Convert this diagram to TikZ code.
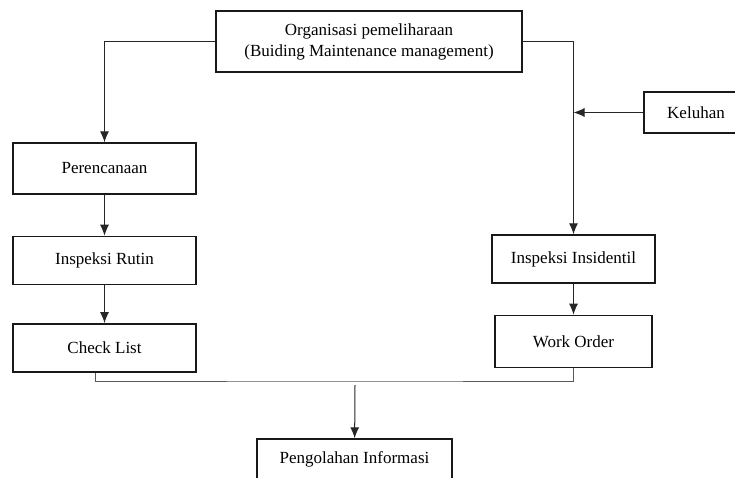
\documentclass[tikz,border=0pt]{standalone}
\usepackage{fontspec}
\setmainfont{Liberation Serif}
\usetikzlibrary{positioning, calc, arrows.meta}

\begin{document}
\begin{tikzpicture}[x=1pt, y=-1pt,
		box/.style={draw=black!90, line width=1.4pt, inner sep=0pt, align=center, font=\fontsize{17}{21}\selectfont},
		link/.style={draw=black!65, line width=1pt},
		arr/.style={draw=black!85, line width=1pt, -{Latex[length=11pt,width=9pt]}}]
		\useasboundingbox (0,0) rectangle (735,478);
		\clip (0,0) rectangle (735,478);
		
		% Define nodes
		\node[box, minimum width=306pt, minimum height=61pt, text depth=2pt] (org) at (369,41.5) {Organisasi pemeliharaan\\(Buiding Maintenance management)};
		\node[box, minimum width=183pt, minimum height=51pt] (plan) at (104.5,168.5) {Perencanaan};
		\node[box, minimum width=183pt, minimum height=48pt, below=41pt of plan] (rutin) {Inspeksi Rutin};
		\node[box, minimum width=183pt, minimum height=48pt, below=38pt of rutin] (check) {Check List};
		\node[box, minimum width=104pt, minimum height=41pt] (keluhan) at (696,112.5) {Keluhan};
		\node[box, minimum width=163pt, minimum height=48pt] (insid) at (573.5,259) {Inspeksi Insidentil};
		\node[box, minimum width=157pt, minimum height=52pt, below=31pt of insid] (work) {Work Order};
		\node[box, minimum width=195pt, minimum height=40pt] (info) at (354.5,459) {Pengolahan Informasi};
		\coordinate (kel) at (insid.north |- keluhan.west);
		\coordinate (merge) at (355,381);
		
		% Draw connectors
		\draw[arr] (org.west) -| (plan.north);
		\draw[arr] (org.east) -| (insid.north);
		\draw[arr] (keluhan.west) -- (kel);
		\draw[arr] (plan) -- (rutin);
		\draw[arr] (rutin) -- (check);
		\draw[arr] (insid) -- (work);
		\draw[link] ([xshift=-9.5pt]check.south) |- (merge) -| (work.south);
		\draw[arr] ([yshift=-4pt]merge) -- (info);
	\end{tikzpicture}
\end{document}
